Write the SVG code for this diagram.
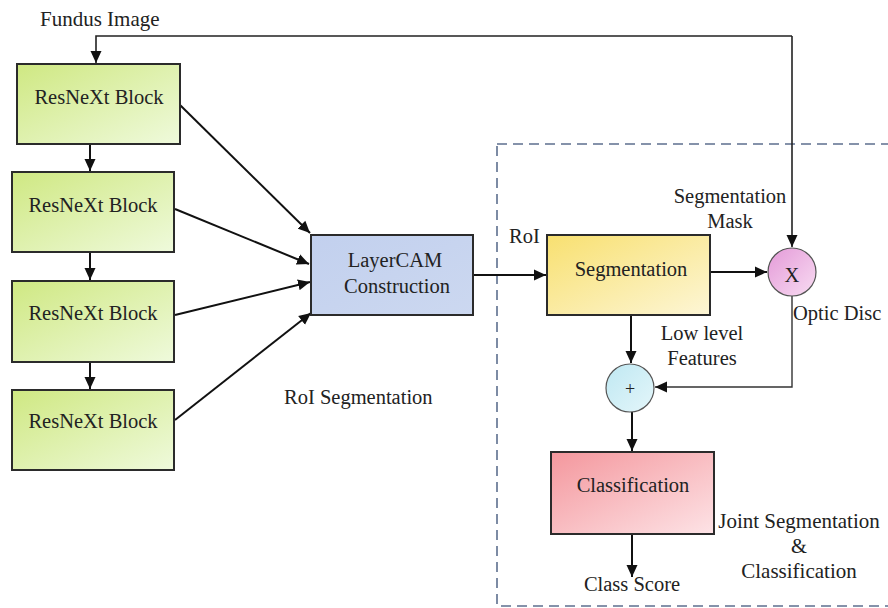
<svg xmlns="http://www.w3.org/2000/svg" width="888" height="608" viewBox="0 0 888 608">
  <defs>
    <linearGradient id="gGreen" x1="0" y1="0" x2="1" y2="1">
      <stop offset="0" stop-color="#cfe882"/>
      <stop offset="1" stop-color="#effadc"/>
    </linearGradient>
    <linearGradient id="gBlue" x1="0" y1="0" x2="1" y2="1">
      <stop offset="0" stop-color="#c2d0ee"/>
      <stop offset="1" stop-color="#ccd8f0"/>
    </linearGradient>
    <linearGradient id="gYellow" x1="0" y1="0" x2="1" y2="1">
      <stop offset="0" stop-color="#f8e070"/>
      <stop offset="1" stop-color="#fdf6d6"/>
    </linearGradient>
    <linearGradient id="gRed" x1="0" y1="0" x2="1" y2="1">
      <stop offset="0" stop-color="#f4979d"/>
      <stop offset="1" stop-color="#fde3e6"/>
    </linearGradient>
    <linearGradient id="gPink" x1="0" y1="0" x2="1" y2="1">
      <stop offset="0" stop-color="#e49ad8"/>
      <stop offset="1" stop-color="#f8dcf2"/>
    </linearGradient>
    <linearGradient id="gCyan" x1="0" y1="0" x2="1" y2="1">
      <stop offset="0" stop-color="#bfe8f2"/>
      <stop offset="1" stop-color="#e4f6fa"/>
    </linearGradient>
    <marker id="arr" viewBox="0 0 12 12" refX="12" refY="6" markerWidth="12" markerHeight="12" markerUnits="userSpaceOnUse" orient="auto">
      <path d="M0,0.5 L12,6 L0,11.5 Z" fill="#111"/>
    </marker>
  </defs>
  <style>
    text { font-family: "Liberation Serif", "DejaVu Serif", serif; font-size: 20.5px; fill: #222; }
    .mid { text-anchor: middle; }
    .box { stroke: #2b2b2b; stroke-width: 2; }
    .circ { stroke: #555; stroke-width: 1.2; }
    .link { fill: none; stroke: #111; stroke-width: 2; }
    .thin { fill: none; stroke: #333; stroke-width: 1.4; }
  </style>

  <rect width="888" height="608" fill="#fff"/>

  <!-- joint segmentation / classification region -->
  <rect x="497" y="144" width="400" height="462" fill="none" stroke="#5d6f8e" stroke-width="1.6" stroke-dasharray="10,6"/>

  <g id="connectors">
    <!-- input feed and skip to multiplier -->
    <polyline class="thin" points="792,36 96,36 96,63" marker-end="url(#arr)" style="stroke:#222;stroke-width:1.6"/>
    <line class="thin" x1="792" y1="36" x2="792" y2="247" marker-end="url(#arr)" style="stroke:#222;stroke-width:1.6"/>
    <!-- backbone chain -->
    <line class="link" x1="90" y1="144" x2="90" y2="171" marker-end="url(#arr)"/>
    <line class="link" x1="90" y1="252" x2="90" y2="280" marker-end="url(#arr)"/>
    <line class="link" x1="90" y1="362" x2="90" y2="389" marker-end="url(#arr)"/>
    <!-- blocks to LayerCAM -->
    <line class="link" x1="180" y1="105" x2="310" y2="233" marker-end="url(#arr)"/>
    <line class="link" x1="175" y1="209" x2="309" y2="264" marker-end="url(#arr)"/>
    <line class="link" x1="175" y1="315" x2="310" y2="282" marker-end="url(#arr)"/>
    <line class="link" x1="175" y1="420" x2="311" y2="313" marker-end="url(#arr)"/>
    <!-- LayerCAM to segmentation -->
    <line class="link" x1="473" y1="275" x2="546" y2="275" marker-end="url(#arr)"/>
    <!-- segmentation to multiplier -->
    <line class="link" x1="710" y1="272" x2="767" y2="272" marker-end="url(#arr)"/>
    <!-- segmentation to adder -->
    <line class="link" x1="631" y1="315" x2="631" y2="363" marker-end="url(#arr)"/>
    <!-- optic disc back to adder -->
    <polyline class="thin" points="792,296 792,387 655,387" marker-end="url(#arr)"/>
    <!-- adder to classification -->
    <line class="link" x1="632" y1="412" x2="632" y2="451" marker-end="url(#arr)"/>
    <!-- classification output -->
    <line class="link" x1="632" y1="534" x2="632" y2="577" marker-end="url(#arr)"/>
  </g>

  <text x="40" y="26" style="font-size:21px">Fundus Image</text>

  <g id="resnext1">
    <rect class="box" x="17" y="64" width="163" height="80" fill="url(#gGreen)"/>
    <text class="mid" x="99" y="104">ResNeXt Block</text>
  </g>
  <g id="resnext2">
    <rect class="box" x="12" y="172" width="162" height="80" fill="url(#gGreen)"/>
    <text class="mid" x="93" y="212">ResNeXt Block</text>
  </g>
  <g id="resnext3">
    <rect class="box" x="12" y="281" width="162" height="81" fill="url(#gGreen)"/>
    <text class="mid" x="93" y="320">ResNeXt Block</text>
  </g>
  <g id="resnext4">
    <rect class="box" x="12" y="390" width="162" height="80" fill="url(#gGreen)"/>
    <text class="mid" x="93" y="428">ResNeXt Block</text>
  </g>

  <g id="layercam">
    <rect class="box" x="311" y="235" width="162" height="80" fill="url(#gBlue)"/>
    <text class="mid" x="395" y="267">LayerCAM</text>
    <text class="mid" x="397" y="293">Construction</text>
  </g>

  <text x="284" y="404">RoI Segmentation</text>
  <text x="509" y="243">RoI</text>

  <g id="segmentation">
    <rect class="box" x="547" y="235" width="163" height="80" fill="url(#gYellow)"/>
    <text class="mid" x="631" y="276">Segmentation</text>
  </g>

  <text class="mid" x="730" y="203">Segmentation</text>
  <text class="mid" x="730" y="228">Mask</text>

  <g id="multiply">
    <circle class="circ" cx="792" cy="272" r="24" fill="url(#gPink)"/>
    <text class="mid" x="792" y="282">X</text>
  </g>

  <text x="793" y="320">Optic Disc</text>
  <text class="mid" x="702" y="340">Low level</text>
  <text class="mid" x="702" y="365">Features</text>

  <g id="add">
    <circle class="circ" cx="630" cy="388" r="24" fill="url(#gCyan)"/>
    <text class="mid" x="630" y="395" style="font-size:18px">+</text>
  </g>

  <g id="classification">
    <rect class="box" x="551" y="452" width="163" height="82" fill="url(#gRed)"/>
    <text class="mid" x="633" y="492">Classification</text>
  </g>

  <text class="mid" x="632" y="591">Class Score</text>
  <text class="mid" x="799" y="528" style="font-size:21px">Joint Segmentation</text>
  <text class="mid" x="799" y="553">&amp;</text>
  <text class="mid" x="799" y="578" style="font-size:21px">Classification</text>
</svg>
